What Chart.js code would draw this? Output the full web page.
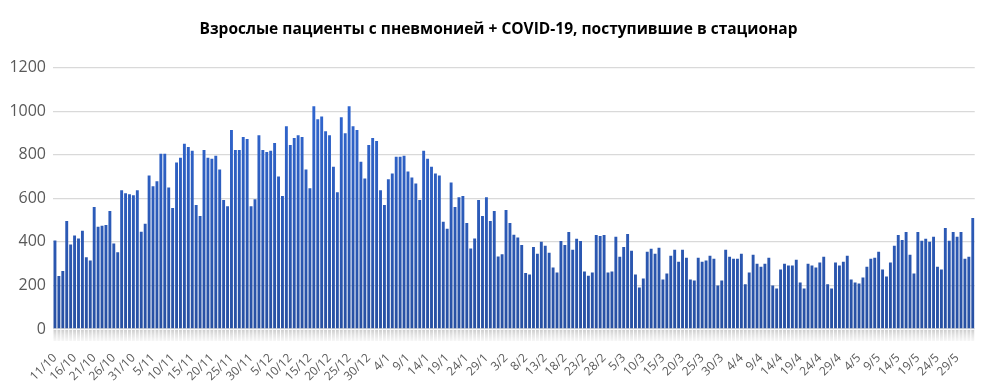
<!DOCTYPE html>
<html>
<head>
<meta charset="utf-8">
<script src="https://cdn.jsdelivr.net/npm/chart.js@4.4.1/dist/chart.umd.min.js"></script>
<style>
  html, body { margin: 0; padding: 0; background: #fff; }
  #wrap { width: 997px; height: 389px; position: relative; }
</style>
</head>
<body>
<div id="wrap"><canvas id="patientsChart"></canvas></div>
<script>
// daily admissions, 11/10 .. 2/6
const startDay = new Date(2020, 9, 11);
const dayCount = 235;

const admissions = [
    406, 243, 266, 496, 388, 429, 415, 451, 329, 315,
    560, 469, 474, 478, 542, 392, 352, 637, 623, 619,
    614, 637, 447, 483, 705, 655, 678, 804, 804, 650,
    555, 764, 786, 850, 836, 818, 569, 519, 822, 786,
    782, 795, 732, 592, 564, 913, 822, 822, 881, 872,
    564, 596, 890, 822, 813, 818, 854, 700, 610, 931,
    845, 877, 890, 881, 732, 646, 1022, 963, 976, 908,
    890, 745, 628, 972, 899, 1022, 931, 913, 768, 691,
    845, 877, 863, 637, 569, 687, 714, 791, 791, 795,
    723, 696, 668, 592, 818, 782, 745, 714, 705, 492,
    460, 673, 560, 605, 610, 487, 370, 415, 592, 519,
    605, 496, 542, 333, 343, 546, 487, 433, 420, 386,
    257, 250, 377, 345, 400, 382, 350, 282, 259, 404,
    386, 445, 364, 414, 404, 264, 245, 259, 432, 427,
    432, 259, 264, 423, 332, 377, 436, 359, 250, 191,
    232, 355, 368, 345, 373, 227, 255, 336, 364, 309,
    364, 327, 227, 223, 327, 309, 314, 336, 323, 200,
    223, 364, 332, 323, 323, 345, 205, 259, 341, 300,
    286, 300, 327, 200, 186, 273, 300, 291, 291, 318,
    214, 186, 300, 291, 282, 305, 332, 205, 186, 305,
    291, 309, 336, 227, 214, 209, 236, 286, 323, 327,
    355, 273, 241, 305, 382, 432, 409, 445, 341, 255,
    445, 405, 414, 400, 423, 286, 273, 464, 405, 445,
    423, 445, 323, 332, 509
];

const yTicks = [0, 200, 400, 600, 800, 1000, 1200];
const labelEvery = 5;
const chartTitle = 'Взрослые пациенты с пневмонией + COVID-19, поступившие в стационар';

var days = [];
for (var i = 0; i < dayCount; i++) {
    var d = new Date(startDay);
    d.setDate(startDay.getDate() + i);
    days.push(d.getDate() + '/' + (d.getMonth() + 1));
}

function barGradient(context) {
    var chart = context.chart;
    var area = chart.chartArea;
    if (!area) return '#2f62c8';
    var g = chart.ctx.createLinearGradient(0, area.top, 0, area.bottom);
    g.addColorStop(0, '#3169d6');
    g.addColorStop(1, '#2850a2');
    return g;
}

// faint grey reflection under the zero line
const reflection = {
    id: 'reflection',
    afterDatasetsDraw(chart) {
        var ctx = chart.ctx;
        var meta = chart.getDatasetMeta(0);
        var base = chart.scales.y.getPixelForValue(0) + 1;
        var g = ctx.createLinearGradient(0, base, 0, base + 11);
        g.addColorStop(0, 'rgba(200,200,200,0.9)');
        g.addColorStop(1, 'rgba(225,225,225,0.3)');
        ctx.save();
        ctx.fillStyle = g;
        meta.data.forEach(function (bar) {
            var w = bar.width;
            ctx.fillRect(bar.x - w / 2, base, w, 11);
        });
        ctx.restore();
    }
};

var ctx = document.getElementById('patientsChart').getContext('2d');
var chart = new Chart(ctx, {
    type: 'bar',
    data: {
        labels: days,
        datasets: [{
            label: 'Пациенты',
            data: admissions,
            backgroundColor: barGradient,
            borderWidth: 0,
            barPercentage: 0.74,
            categoryPercentage: 1.0
        }]
    },
    options: {
        responsive: true,
        maintainAspectRatio: false,
        animation: false,
        layout: { padding: 0 },
        plugins: {
            legend: { display: false },
            tooltip: { enabled: false },
            title: {
                display: true,
                text: chartTitle,
                color: '#000',
                font: { family: 'Open Sans', size: 15.5, weight: 'bold' },
                padding: { top: 20, bottom: 29 }
            }
        },
        scales: {
            x: {
                grid: { display: false },
                border: { display: false },
                ticks: {
                    autoSkip: false,
                    minRotation: 45,
                    maxRotation: 45,
                    padding: 14,
                    color: '#595959',
                    font: { family: 'Open Sans', size: 12 },
                    callback: function (value, index) {
                        return index % labelEvery === 0 ? days[index] : '';
                    }
                },
                afterFit: function (scale) { scale.height = 60; }
            },
            y: {
                min: yTicks[0],
                max: yTicks[yTicks.length - 1],
                grid: { color: '#d9d9d9', lineWidth: 1.3, drawTicks: false },
                border: { display: false },
                ticks: {
                    stepSize: 200,
                    padding: 7,
                    color: '#595959',
                    font: { family: 'Open Sans', size: 16 },
                    callback: function (value) { return String(value); }
                },
                afterFit: function (scale) { scale.width = 53; }
            },
            // empty spacer on the right so the title stays centred on the page
            yRight: {
                position: 'right',
                min: yTicks[0],
                max: yTicks[yTicks.length - 1],
                grid: { display: false },
                border: { display: false },
                ticks: { display: false },
                afterFit: function (scale) { scale.width = 18; }
            }
        }
    },
    plugins: [reflection]
});
</script>
</body>
</html>
